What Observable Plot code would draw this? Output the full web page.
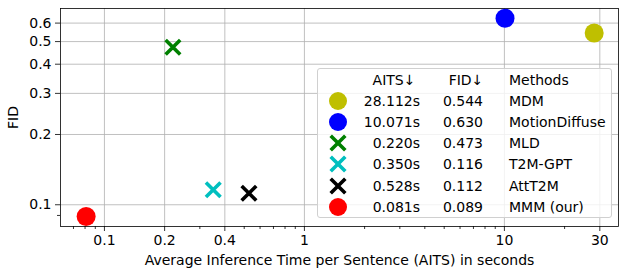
<!DOCTYPE html>
<html><head><meta charset="utf-8">
<script src="https://cdn.jsdelivr.net/npm/d3@7"></script>
<script src="https://cdn.jsdelivr.net/npm/@observablehq/plot@0.6"></script>
<style>
body{margin:0;background:#fff;}
#wrap{position:relative;width:620px;height:270px;font-family:"DejaVu Sans",sans-serif;}
#legend{position:absolute;left:317px;top:68px;width:295px;height:150px;background:rgba(255,255,255,0.8);border:1px solid #d0d0d0;border-radius:3px;box-sizing:border-box;}
.lt{position:absolute;font-size:14px;line-height:16px;color:#000;white-space:nowrap;}
</style></head>
<body><div id="wrap"></div>
<script>
const methods = ["MDM","MotionDiffuse","MLD","T2M-GPT","AttT2M","MMM (our)"];
const aits = [28.112,10.071,0.220,0.350,0.528,0.081];
const fid = [0.544,0.630,0.473,0.116,0.112,0.089];
const shapes = ["circle","circle","cross","cross","cross","circle"];
const colors = ["#bfbf00","#0000ff","#008000","#00bfbf","#000000","#ff0000"];
const headers = ["AITS\u2193","FID\u2193","Methods"];
const xTicks = [0.1,0.2,0.4,1,10,30];
const xTickLabels = ["0.1","0.2","0.4","1","10","30"];
const xMinor = [0.07,0.08,0.09,0.3,0.5,0.6,0.7,0.8,0.9,2,3,4,5,6,7,8,9,20];
const yTicks = [0.1,0.2,0.3,0.4,0.5,0.6];
const yTickLabels = ["0.1","0.2","0.3","0.4","0.5","0.6"];
const yMinor = [0.09];

const data = methods.map((m,i)=>({method:m, aits:aits[i], fid:fid[i], shape:shapes[i], color:colors[i]}));
const xT = xTicks.map((v,i)=>({v, label:xTickLabels[i]}));
const yT = yTicks.map((v,i)=>({v, label:yTickLabels[i]}));

const crossSym = {draw(ctx,size){const r=Math.sqrt(size/Math.PI);ctx.moveTo(-r,-r);ctx.lineTo(r,r);ctx.moveTo(r,-r);ctx.lineTo(-r,r);}};

const chart = Plot.plot({
  width:620, height:270,
  marginLeft:60, marginRight:2, marginTop:8, marginBottom:44,
  style:{fontFamily:"DejaVu Sans, sans-serif", fontSize:"14px", color:"#000", background:"#fff"},
  x:{type:"log", domain:[0.0603,37.2]},
  y:{type:"log", domain:[0.0807,0.693]},
  marks:[
    Plot.ruleX(xT,{x:"v", stroke:"#b0b0b0", strokeWidth:0.8}),
    Plot.ruleY(yT,{y:"v", stroke:"#b0b0b0", strokeWidth:0.8}),
    Plot.axisX(xMinor,{tickSize:3, text:null, label:null, stroke:"#000", strokeWidth:0.8}),
    Plot.axisY(yMinor,{tickSize:3, text:null, label:null, stroke:"#000", strokeWidth:0.8}),
    Plot.axisX(xTicks,{tickSize:5, text:null, stroke:"#000", strokeWidth:0.8,
      label:"Average Inference Time per Sentence (AITS) in seconds", labelAnchor:"center", labelArrow:"none", labelOffset:38}),
    Plot.text(xT,{x:"v", text:"label", frameAnchor:"bottom", lineAnchor:"top", dy:9, fontSize:14, fill:"#000"}),
    Plot.axisY(yT.map(d=>d.v),{tickSize:5, tickPadding:4, tickFormat:(d,i)=>yTickLabels[yTicks.indexOf(d)], fontSize:14, stroke:"#000", strokeWidth:0.8,
      label:"FID", labelAnchor:"center", labelArrow:"none", labelOffset:52}),
    Plot.frame({stroke:"#000", strokeWidth:0.8}),
    Plot.dot(data.filter(d=>d.shape==="circle"),{x:"aits", y:"fid", r:9.5, fill:d=>d.color, stroke:null}),
    Plot.dot(data.filter(d=>d.shape==="cross"),{x:"aits", y:"fid", r:7.3, symbol:crossSym, stroke:d=>d.color, strokeWidth:3.6, fill:"none"})
  ]
});
const wrap=document.getElementById("wrap");
wrap.appendChild(chart);

// legend
const lg=document.createElement("div"); lg.id="legend"; wrap.appendChild(lg);
const L=317, T=68, rowH=21.1, y0=79;
function addText(txt, cx, cy, align){
  const s=document.createElement("div"); s.className="lt"; s.textContent=txt;
  s.style.top=(cy-T-8)+"px";
  if(align==="right"){s.style.right=(L+295-cx)+"px";}
  else if(align==="center"){s.style.left=(cx-L-60)+"px"; s.style.width="120px"; s.style.textAlign="center";}
  else s.style.left=(cx-L)+"px";
  lg.appendChild(s);
}
addText(headers[0],393,y0,"center");
addText(headers[1],465,y0,"center");
addText(headers[2],508,y0,"left");
data.forEach((d,i)=>{
  const cy=y0+rowH*(i+1);
  const svg=d3.create("svg").attr("width",24).attr("height",24).style("position","absolute")
    .style("left",(337-L-12)+"px").style("top",(cy-T-12)+"px");
  if(d.shape==="circle") svg.append("circle").attr("cx",12).attr("cy",12).attr("r",9).attr("fill",d.color);
  else svg.append("path").attr("d","M4.7,4.7L19.3,19.3M19.3,4.7L4.7,19.3").attr("stroke",d.color).attr("stroke-width",3.6).attr("fill","none");
  lg.appendChild(svg.node());
  addText(d.aits.toFixed(3)+"s",421,cy,"right");
  addText(d.fid.toFixed(3),484,cy,"right");
  addText(d.method,508,cy,"left");
});
</script></body></html>
